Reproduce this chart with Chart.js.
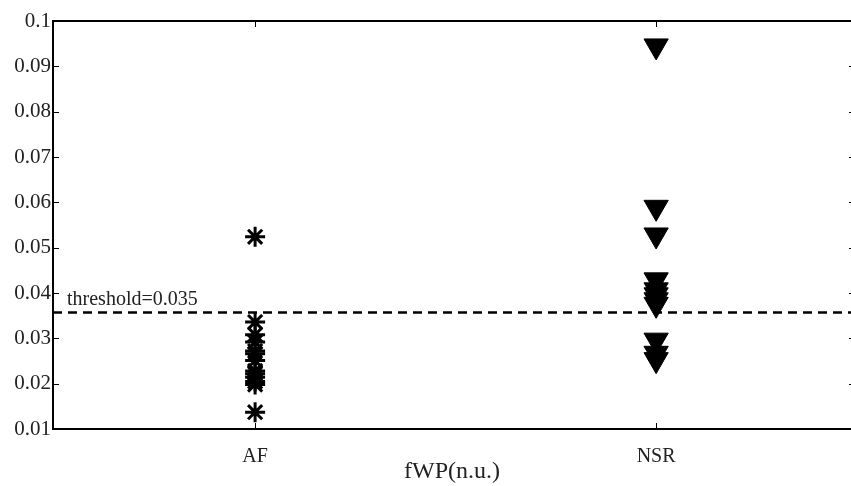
<!DOCTYPE html>
<html lang="en">
<head>
  <meta charset="UTF-8">
  <title>fWP(n.u.)</title>
  <script src="https://cdn.jsdelivr.net/npm/chart.js"></script>
  <style>
    html, body {
      margin: 0;
      padding: 0;
      background: #ffffff;
      overflow: hidden;
    }
    canvas {
      display: block;
    }
  </style>
</head>
<body>
  <canvas id="myChart" width="851" height="486"></canvas>

  <script>
    // categories on the x axis
    const categories = ['AF', 'NSR'];

    // fWP values
    const afValues = [0.0524, 0.0336, 0.0308, 0.0292, 0.0272, 0.0266, 0.0251, 0.0228, 0.0222, 0.0214, 0.0205, 0.0198, 0.0137];
    const nsrValues = [0.0945, 0.0589, 0.0528, 0.0429, 0.0407, 0.0396, 0.0385, 0.0375, 0.0296, 0.0267, 0.0253];

    // threshold line and y ticks
    const thresholdValue = 0.0357;
    const thresholdLabel = 'threshold=0.035';
    const yTicks = [0.01, 0.02, 0.03, 0.04, 0.05, 0.06, 0.07, 0.08, 0.09, 0.1];

    // x range: the figure is cut just inside its right border
    const xMin = 0.496;
    const xMax = 2.486;

    const serif = '"Liberation Serif", "Times New Roman", serif';

    // box + inward tick marks, matlab style
    const boxPlugin = {
      id: 'boxPlugin',
      afterDatasetsDraw(chart) {
        const ctx = chart.ctx;
        const a = chart.chartArea;
        const xs = chart.scales.x;
        const ys = chart.scales.y;
        ctx.save();
        ctx.strokeStyle = '#000';
        ctx.lineWidth = 1;
        ctx.beginPath();
        yTicks.forEach(v => {
          const py = Math.round(ys.getPixelForValue(v)) + 0.5;
          ctx.moveTo(a.left, py); ctx.lineTo(a.left + 6, py);
          ctx.moveTo(a.right, py); ctx.lineTo(a.right - 2, py);
        });
        categories.forEach((c, i) => {
          const px = Math.round(xs.getPixelForValue(i + 1)) + 0.5;
          ctx.moveTo(px, a.bottom); ctx.lineTo(px, a.bottom - 6);
          ctx.moveTo(px, a.top); ctx.lineTo(px, a.top + 6);
        });
        ctx.stroke();
        // frame (right side falls outside the picture)
        ctx.lineWidth = 2;
        ctx.beginPath();
        ctx.moveTo(a.right + 2, a.top);
        ctx.lineTo(a.left, a.top);
        ctx.lineTo(a.left, a.bottom);
        ctx.lineTo(a.right + 2, a.bottom);
        ctx.stroke();
        // threshold text
        ctx.fillStyle = '#222';
        ctx.font = '20px ' + serif;
        ctx.textAlign = 'left';
        ctx.textBaseline = 'alphabetic';
        ctx.fillText(thresholdLabel, a.left + 14, ys.getPixelForValue(thresholdValue) - 7);
        ctx.restore();
      }
    };

    const myChart = new Chart(document.getElementById('myChart').getContext('2d'), {
      type: 'scatter',
      data: {
        datasets: [
          {
            label: 'threshold',
            type: 'line',
            data: [{ x: xMin, y: thresholdValue }, { x: xMax, y: thresholdValue }],
            borderColor: '#000',
            borderWidth: 2.5,
            borderDash: [9, 6],
            pointRadius: 0,
            order: 3
          },
          {
            label: categories[0],
            data: afValues.map(v => ({ x: 1, y: v })),
            pointStyle: 'star',
            pointRadius: 10,
            borderWidth: 3,
            borderColor: '#000',
            backgroundColor: '#000',
            order: 1
          },
          {
            label: categories[1],
            data: nsrValues.map(v => ({ x: 2, y: v })),
            pointStyle: 'triangle',
            rotation: 180,
            pointRadius: 14,
            borderWidth: 1,
            borderColor: '#000',
            backgroundColor: '#000',
            order: 2
          }
        ]
      },
      options: {
        responsive: false,
        animation: false,
        layout: { autoPadding: false, padding: { left: 0, top: 21, right: 0, bottom: 0 } },
        plugins: {
          legend: { display: false },
          tooltip: { enabled: false }
        },
        scales: {
          x: {
            type: 'linear',
            min: xMin,
            max: xMax,
            border: { display: false },
            grid: { display: false, drawTicks: false },
            afterBuildTicks: scale => {
              scale.ticks = categories.map((c, i) => ({ value: i + 1 }));
            },
            afterFit: scale => {
              scale.height = 57;
              scale.paddingLeft = 0;
              scale.paddingRight = 0;
            },
            ticks: {
              padding: 16,
              color: '#222',
              font: { family: serif, size: 20 },
              callback: v => categories[v - 1] || ''
            },
            title: {
              display: true,
              text: 'fWP(n.u.)',
              color: '#222',
              font: { family: serif, size: 24 },
              padding: { top: 0, bottom: 0 }
            }
          },
          y: {
            min: 0.01,
            max: 0.1,
            border: { display: false },
            grid: { display: false, drawTicks: false },
            afterBuildTicks: scale => {
              scale.ticks = yTicks.map(v => ({ value: v }));
            },
            afterFit: scale => { scale.width = 53; },
            ticks: {
              padding: 2,
              color: '#222',
              font: { family: serif, size: 21 },
              callback: v => String(Number(v.toFixed(2)))
            }
          }
        }
      },
      plugins: [boxPlugin]
    });
  </script>
</body>
</html>
